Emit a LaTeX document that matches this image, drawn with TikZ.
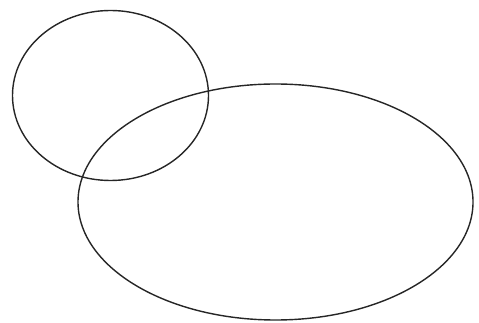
\documentclass[tikz,border=0pt]{standalone}
\begin{document}
\begin{tikzpicture}[
    x=0.02cm, y=-0.02cm,
    outline/.style={draw, line width=0.8pt, black!85}
]

\useasboundingbox (0,0) rectangle (479,323);

% kleine und grosse Ellipse
\draw[outline] (110.5,95.5) ellipse [x radius=98, y radius=85];
\draw[outline] (275.5,202) ellipse [x radius=197.5, y radius=118];

\end{tikzpicture}
\end{document}
